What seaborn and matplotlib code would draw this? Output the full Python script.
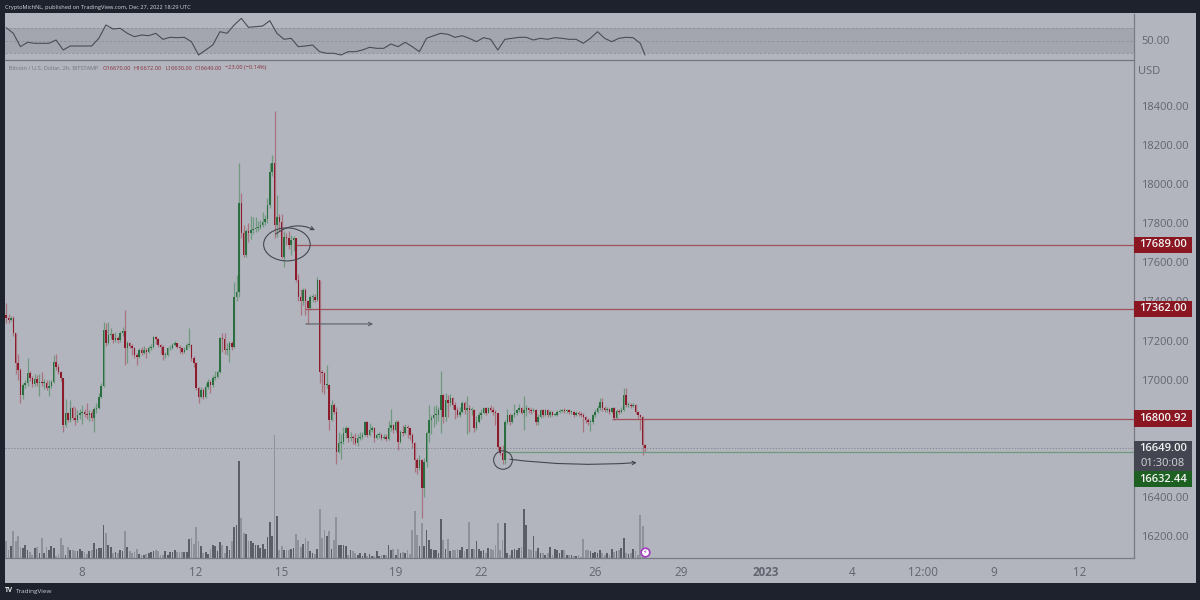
"""BTC/USD 2h TradingView screenshot redrawn with seaborn + matplotlib."""
import matplotlib

matplotlib.use("Agg")
import matplotlib.pyplot as plt
from matplotlib.patches import Ellipse, Rectangle
import numpy as np
import pandas as pd
import seaborn as sns

FIRST_OPEN = 17330
closes = [
    17314, 17305, 17314, 17237, 17084, 17050, 16922, 16973, 16981, 17033,
    17007, 16978, 17002, 16981, 16990, 16985, 16985, 16956, 16968, 16990,
    17092, 17067, 17041, 17007, 16768, 16828, 16794, 16854, 16802, 16794,
    16819, 16831, 16837, 16825, 16819, 16828, 16806, 16850, 16857, 16913,
    16968, 17254, 17186, 17229, 17234, 17203, 17212, 17203, 17241, 17251,
    17160, 17186, 17174, 17160, 17126, 17118, 17152, 17135, 17152, 17143,
    17160, 17169, 17217, 17206, 17178, 17169, 17126, 17126, 17160, 17160,
    17178, 17186, 17169, 17160, 17143, 17152, 17178, 17178, 17109, 17084,
    16956, 16913, 16947, 16913, 16964, 16990, 16973, 17007, 17016, 17041,
    17212, 17206, 17152, 17152, 17186, 17169, 17425, 17450, 17902, 17749,
    17638, 17758, 17749, 17765, 17770, 17775, 17780, 17790, 17805, 17820,
    17894, 18064, 18107, 17792, 17834, 17809, 17630, 17732, 17725, 17689,
    17715, 17723, 17510, 17425, 17400, 17459, 17400, 17365, 17425, 17425,
    17410, 17510, 17041, 17033, 16973, 16973, 16794, 16871, 16836, 16632,
    16674, 16683, 16726, 16751, 16700, 16709, 16700, 16674, 16700, 16709,
    16717, 16785, 16717, 16743, 16751, 16700, 16717, 16717, 16700, 16709,
    16695, 16751, 16768, 16743, 16785, 16683, 16734, 16726, 16760, 16751,
    16717, 16674, 16589, 16547, 16589, 16444, 16581, 16726, 16794, 16802,
    16819, 16819, 16845, 16922, 16811, 16896, 16879, 16905, 16871, 16845,
    16819, 16836, 16879, 16845, 16853, 16845, 16845, 16751, 16785, 16819,
    16828, 16853, 16828, 16853, 16845, 16836, 16828, 16657, 16623, 16589,
    16785, 16819, 16785, 16819, 16828, 16845, 16853, 16831, 16845, 16853,
    16845, 16842, 16845, 16785, 16811, 16845, 16819, 16845, 16819, 16836,
    16819, 16819, 16836, 16842, 16845, 16840, 16845, 16836, 16836, 16819,
    16831, 16825, 16819, 16811, 16794, 16785, 16785, 16819, 16836, 16853,
    16888, 16853, 16845, 16848, 16836, 16853, 16802, 16842, 16836, 16845,
    16922, 16871, 16871, 16865, 16871, 16836, 16819, 16811, 16666, 16649,
]
highs = [
    17390, 17335, 17325, 17325, 17240, 17130, 17060, 16985, 17000, 17110,
    17045, 17020, 17030, 17025, 17030, 17040, 17005, 17000, 17000, 17000,
    17125, 17130, 17080, 17045, 17010, 16900, 16835, 16895, 16865, 16860,
    16845, 16850, 16870, 16850, 16880, 16845, 16845, 16860, 16880, 16930,
    16985, 17295, 17290, 17295, 17265, 17240, 17245, 17225, 17250, 17270,
    17355, 17200, 17195, 17180, 17165, 17135, 17160, 17165, 17170, 17160,
    17170, 17185, 17225, 17225, 17215, 17180, 17175, 17140, 17165, 17175,
    17190, 17200, 17190, 17175, 17165, 17165, 17190, 17265, 17185, 17120,
    17090, 16965, 16965, 16955, 16985, 17005, 17000, 17025, 17045, 17050,
    17220, 17240, 17240, 17190, 17200, 17200, 17500, 17535, 18110, 17955,
    17790, 17770, 17800, 17835, 17830, 17830, 17810, 17815, 17860, 17840,
    17930, 18110, 18150, 18375, 17945, 17850, 17850, 17760, 17750, 17760,
    17740, 17735, 17725, 17540, 17465, 17470, 17470, 17410, 17435, 17440,
    17440, 17525, 17510, 17050, 17040, 17075, 16980, 16895, 16880, 16860,
    16730, 16720, 16760, 16765, 16760, 16735, 16715, 16725, 16720, 16735,
    16730, 16790, 16790, 16780, 16765, 16760, 16725, 16730, 16725, 16720,
    16720, 16790, 16850, 16775, 16795, 16795, 16745, 16770, 16775, 16770,
    16755, 16725, 16680, 16600, 16615, 16595, 16600, 16740, 16870, 16820,
    16865, 16870, 16860, 17045, 16925, 16930, 16920, 16925, 16910, 16885,
    16860, 16860, 16890, 16890, 16915, 16870, 16860, 16850, 16815, 16835,
    16850, 16860, 16860, 16860, 16870, 16860, 16845, 16830, 16660, 16665,
    16795, 16850, 16830, 16825, 16875, 16850, 16875, 16860, 16915, 16870,
    16860, 16855, 16855, 16850, 16825, 16850, 16850, 16850, 16850, 16845,
    16840, 16830, 16845, 16850, 16850, 16855, 16850, 16850, 16845, 16840,
    16840, 16840, 16835, 16830, 16815, 16805, 16800, 16825, 16850, 16870,
    16905, 16905, 16865, 16860, 16855, 16860, 16860, 16850, 16850, 16860,
    16960, 16960, 16885, 16880, 16880, 16875, 16840, 16825, 16812, 16672,
]
lows = [
    17290, 17290, 17300, 17225, 17030, 17000, 16880, 16900, 16955, 16970,
    16995, 16965, 16970, 16970, 16915, 16970, 16950, 16945, 16915, 16955,
    16985, 17050, 17030, 16995, 16735, 16760, 16785, 16785, 16795, 16770,
    16785, 16800, 16775, 16810, 16800, 16790, 16790, 16735, 16830, 16850,
    16905, 16965, 17170, 17180, 17210, 17190, 17195, 17190, 17195, 17225,
    17075, 17085, 17160, 17125, 17110, 17075, 17110, 17125, 17130, 17110,
    17135, 17150, 17160, 17185, 17165, 17130, 17100, 17110, 17120, 17150,
    17155, 17170, 17160, 17135, 17130, 17135, 17150, 17165, 17095, 17065,
    16945, 16880, 16905, 16900, 16905, 16950, 16930, 16965, 17000, 17010,
    17035, 17140, 17130, 17125, 17090, 17150, 17160, 17405, 17425, 17725,
    17625, 17630, 17705, 17720, 17745, 17755, 17760, 17770, 17780, 17790,
    17800, 17880, 18040, 17725, 17730, 17760, 17620, 17575, 17690, 17670,
    17640, 17660, 17500, 17400, 17330, 17380, 17330, 17285, 17355, 17395,
    17395, 17400, 16985, 16935, 16925, 16960, 16745, 16790, 16825, 16570,
    16625, 16595, 16670, 16700, 16680, 16685, 16670, 16665, 16660, 16690,
    16695, 16710, 16705, 16710, 16735, 16680, 16695, 16700, 16690, 16695,
    16685, 16690, 16740, 16725, 16735, 16640, 16675, 16710, 16720, 16700,
    16690, 16650, 16530, 16520, 16540, 16295, 16400, 16555, 16680, 16720,
    16760, 16775, 16790, 16725, 16780, 16790, 16810, 16865, 16850, 16800,
    16810, 16810, 16830, 16825, 16720, 16730, 16820, 16735, 16745, 16780,
    16800, 16825, 16820, 16830, 16835, 16820, 16770, 16640, 16615, 16570,
    16570, 16775, 16770, 16780, 16810, 16820, 16835, 16825, 16745, 16815,
    16830, 16825, 16835, 16770, 16770, 16805, 16810, 16815, 16810, 16810,
    16815, 16815, 16815, 16830, 16835, 16830, 16830, 16825, 16825, 16810,
    16815, 16815, 16810, 16735, 16780, 16770, 16740, 16775, 16810, 16830,
    16845, 16840, 16835, 16835, 16825, 16830, 16795, 16800, 16825, 16830,
    16840, 16860, 16860, 16855, 16860, 16825, 16805, 16745, 16615, 16630,
]
volumes = [
    17, 8, 12, 27, 17, 22, 11, 10, 13, 8,
    6, 3, 10, 11, 5, 20, 5, 11, 8, 12,
    10, 2, 4, 20, 13, 3, 11, 8, 8, 7,
    7, 9, 7, 6, 4, 7, 8, 15, 9, 10,
    10, 33, 25, 13, 11, 5, 6, 5, 8, 7,
    27, 11, 7, 5, 6, 9, 4, 3, 3, 4,
    5, 6, 7, 8, 7, 3, 3, 7, 3, 6,
    6, 8, 6, 6, 6, 6, 6, 19, 20, 14,
    31, 17, 12, 5, 6, 4, 9, 13, 12, 7,
    16, 13, 5, 12, 8, 17, 31, 33, 97, 40,
    25, 24, 17, 17, 15, 13, 13, 10, 14, 9,
    21, 36, 22, 123, 42, 8, 12, 8, 8, 8,
    9, 10, 24, 18, 11, 14, 20, 17, 7, 5,
    4, 9, 49, 20, 28, 22, 27, 9, 18, 41,
    13, 13, 13, 12, 3, 8, 7, 5, 3, 5,
    2, 5, 2, 4, 2, 2, 7, 2, 3, 3,
    3, 13, 8, 9, 3, 9, 5, 6, 5, 8,
    4, 28, 47, 23, 12, 35, 12, 28, 18, 9,
    8, 8, 5, 39, 18, 9, 19, 7, 8, 8,
    9, 8, 11, 7, 9, 36, 9, 9, 17, 9,
    7, 8, 5, 10, 9, 8, 13, 35, 8, 18,
    35, 5, 3, 8, 9, 8, 10, 11, 49, 33,
    9, 8, 22, 7, 10, 5, 5, 3, 5, 11,
    3, 9, 8, 5, 8, 8, 3, 3, 3, 2,
    2, 3, 1, 19, 8, 8, 7, 5, 6, 5,
    8, 5, 3, 5, 3, 9, 6, 7, 8, 10,
    20, 5, 4, 5, 9, 7, 3, 43, 32, 5,
]
rsi_values = [
    70.5, 61.5, 40.1, 47.1, 45.5, 45.5, 45.5, 50.8, 34.8, 41.2,
    41.2, 41.2, 41.2, 53.5, 74.8, 68.4, 69.5, 61.5, 56.1, 58.8,
    57.7, 61.5, 51.9, 55.1, 54.5, 55.1, 48.1, 26.8, 34.8, 42.8,
    64.1, 61.5, 74.8, 85.5, 71.1, 72.1, 73.2, 81.7, 61.5, 51.9,
    53.5, 40.1, 41.2, 42.8, 32.1, 29.5, 29.5, 26.8, 32.1, 32.1,
    34.8, 39.1, 37.5, 37.5, 44.4, 40.1, 47.1, 40.1, 32.1, 53.5,
    57.7, 61.5, 59.9, 55.1, 57.7, 53.5, 48.1, 54.5, 51.9, 34.8,
    51.9, 53.5, 55.1, 55.1, 50.8, 53.5, 51.9, 54.5, 53.5, 51.9,
    51.9, 45.5, 53.5, 64.1, 53.5, 48.1, 53.5, 55.1, 54.5, 45.5,
    26.8,
]
rsi_index = list(range(0, 270, 3)) + [269]

# 16600 and 16800 are hidden behind the flags in the screenshot
price_ticks = [16200, 16400, 17000, 17200, 17400, 17600, 17800, 18000, 18200, 18400]
time_tick_pos = [32, 80, 116, 164, 200, 248, 284, 320, 356, 386, 416, 452]
time_tick_labels = ["8", "12", "15", "19", "22", "26", "29", "2023", "4", "12:00", "9", "12"]

last_price = 16649
level_starts = {17689: 122, 17362: 126, 16800.92: 255}
support_level = 16632.44
support_start = 210

BG = "#b2b5be"
FRAME = "#1e222d"
UP = "#2b6e3f"
DOWN = "#8c1c2b"
UP_WICK = "#6f9a80"
DOWN_WICK = "#a9747f"
TXT = "#62656f"
AXLINE = "#787b86"

# pixel geometry of the screenshot
W, H = 1200, 600
PLOT_L, PLOT_R = 5, 1134
RSI_T, RSI_B = 13.5, 60
MAIN_T, MAIN_B = 61, 558

sns.set_theme(style="white")
plt.rcParams["font.family"] = ["Open Sans", "DejaVu Sans"]


def px_axes(fig, left, top, right, bottom):
    return fig.add_axes([left / W, 1 - bottom / H, (right - left) / W, (bottom - top) / H])


def px_text(fig, x, y, s, **kw):
    return fig.text(x / W, 1 - y / H, s, va="center", **kw)


df = pd.DataFrame({"close": closes, "high": highs, "low": lows, "volume": volumes})
df["open"] = df["close"].shift(1).fillna(FIRST_OPEN)
df["idx"] = np.arange(len(df))
df["up"] = df["close"] >= df["open"]

fig = plt.figure(figsize=(12, 6), dpi=100, facecolor=FRAME)
fig.add_artist(Rectangle((PLOT_L / W, 1 - 583 / H), (1196 - PLOT_L) / W, (583 - 13) / H,
                         transform=fig.transFigure, facecolor=BG, edgecolor="none", zorder=-5))

xlim = (-0.5, 474.9)
ylim = (16088, 18630)

# volume sits under the candles, same x scale
ax_vol = px_axes(fig, PLOT_L, MAIN_T, PLOT_R, MAIN_B)
sns.barplot(data=df, x="idx", y="volume", hue="up", palette={True: "#5c5e67", False: "#8f919a"},
            native_scale=True, width=0.75, dodge=False, saturation=1, legend=False,
            linewidth=0, edgecolor="none", ax=ax_vol)
ax_vol.set_xlim(*xlim)
ax_vol.set_ylim(0, MAIN_B - MAIN_T)
ax_vol.axis("off")
ax_vol.patch.set_alpha(0)

ax = px_axes(fig, PLOT_L, MAIN_T, PLOT_R, MAIN_B)
ax.patch.set_alpha(0)
ax.set_xlim(*xlim)
ax.set_ylim(*ylim)
for side in ["left", "top"]:
    ax.spines[side].set_visible(False)
for side in ["right", "bottom"]:
    ax.spines[side].set_color(AXLINE)
    ax.spines[side].set_linewidth(0.9)

up = df[df["up"]]
down = df[~df["up"]]
ax.vlines(up["idx"], up["low"], up["high"], color=UP_WICK, lw=0.9, zorder=2)
ax.vlines(down["idx"], down["low"], down["high"], color=DOWN_WICK, lw=0.9, zorder=2)
ax.bar(up["idx"], (up["close"] - up["open"]).clip(lower=4), bottom=up["open"], width=0.62,
       color=UP, linewidth=0, zorder=3)
ax.bar(down["idx"], (down["open"] - down["close"]).clip(lower=4), bottom=down["close"], width=0.62,
       color=DOWN, linewidth=0, zorder=3)

# levels
for level, start in level_starts.items():
    ax.hlines(level, start, xlim[1], color="#a0515c", lw=0.9, zorder=2)
ax.hlines(support_level, support_start, xlim[1], color="#6f9a80", lw=0.9, zorder=2)
ax.axhline(last_price, color="#7d808a", lw=0.6, ls=(0, (1.5, 2)), zorder=1)

# hand drawn circles and arrows
ax.add_patch(Ellipse((118.2, 17692), 19.6, 169, angle=0, fill=False, ec="#44474f", lw=0.8, zorder=4))
ax.add_patch(Ellipse((209.2, 16589), 7.9, 94, fill=False, ec="#44474f", lw=0.8, zorder=4))
arrow = dict(arrowstyle="->", color="#44474f", lw=0.8, shrinkA=0, shrinkB=0, mutation_scale=6)
ax.annotate("", xy=(130, 17765), xytext=(113.5, 17745),
            arrowprops=dict(arrow, connectionstyle="arc3,rad=-0.3"), zorder=4)
ax.annotate("", xy=(154.5, 17285), xytext=(126.2, 17285),
            arrowprops=dict(arrow, color="#5c5e67"), zorder=4)
ax.annotate("", xy=(265.5, 16576), xytext=(212.1, 16593),
            arrowprops=dict(arrow, connectionstyle="arc3,rad=0.05"), zorder=4)

# axes
ax.yaxis.tick_right()
ax.set_yticks(price_ticks)
ax.set_yticklabels([f"{p}.00" for p in price_ticks], color=TXT, fontsize=8)
ax.set_xticks(time_tick_pos)
ax.set_xticklabels(time_tick_labels, color=TXT, fontsize=8.4)
for lab in ax.get_xticklabels():
    if lab.get_text() == "2023":
        lab.set_fontweight("bold")
ax.tick_params(axis="y", length=0, pad=5)
ax.tick_params(axis="x", length=0, pad=6)

# price flags, width runs from the axis edge to 1192 px
flag_w = (1192 - PLOT_R) / (PLOT_R - PLOT_L)
tr = ax.get_yaxis_transform()
FLAG_H = 85


def flag(y, label, color, height=FLAG_H):
    ax.add_patch(Rectangle((1, y - height / 2), flag_w, height, transform=tr, facecolor=color,
                           edgecolor="none", clip_on=False, zorder=6))
    ax.text(1 + flag_w / 2, y, label, transform=tr, ha="center", va="center", color="#f2f2f2",
            fontsize=8, fontweight="semibold", clip_on=False, zorder=7)


flag(17689, "17689.00", "#8a1621")
flag(17362, "17362.00", "#8a1621")
flag(16800.92, "16800.92", "#8a1621")

ax.add_patch(Rectangle((1, 16535), flag_w, 153, transform=tr, facecolor="#434651",
                       edgecolor="none", clip_on=False, zorder=6))
ax.text(1 + flag_w / 2, 16649, "16649.00", transform=tr, ha="center", va="center", color="#f2f2f2",
        fontsize=8, fontweight="semibold", clip_on=False, zorder=7)
ax.text(1 + flag_w / 2, 16573, "01:30:08", transform=tr, ha="center", va="center", color="#d5d6da",
        fontsize=8, clip_on=False, zorder=7)
flag(16492, "16632.44", "#1e6022")

# lightning badge at the end of the volume row
ax.scatter([269], [16119], s=38, facecolor="white", edgecolor="#a23bc0", lw=1.2, zorder=5, clip_on=False)
ax.text(269, 16119, "\u26a1", ha="center", va="center", color="#a23bc0", fontsize=4.5,
        family="DejaVu Sans", zorder=6)

# RSI pane
ax_rsi = px_axes(fig, PLOT_L, RSI_T, PLOT_R, RSI_B)
ax_rsi.patch.set_alpha(0)
ax_rsi.set_xlim(*xlim)
ax_rsi.set_ylim(18.8, 93.2)
ax_rsi.axhspan(30, 70, color="#a3a6af", lw=0, zorder=0)
for lvl in (30, 50, 70):
    ax_rsi.axhline(lvl, color="#8d9099", lw=0.6, ls=(0, (3, 2)), zorder=1)
sns.lineplot(x=rsi_index, y=rsi_values, color="#4a4d56", lw=0.8, ax=ax_rsi, zorder=3)
ax_rsi.set_xticks([])
ax_rsi.yaxis.tick_right()
ax_rsi.set_yticks([50])
ax_rsi.set_yticklabels(["50.00"], color=TXT, fontsize=8)
ax_rsi.tick_params(axis="y", length=0, pad=5)
for side in ["left", "top"]:
    ax_rsi.spines[side].set_visible(False)
ax_rsi.spines["right"].set_color(AXLINE)
ax_rsi.spines["right"].set_linewidth(0.9)
ax_rsi.spines["bottom"].set_color("#73767f")
ax_rsi.spines["bottom"].set_linewidth(0.9)

# header, legend and footer text
px_text(fig, 5, 7, "CryptoMichNL, published on TradingView.com, Dec 27, 2022 18:29 UTC", color="#d8d9de", fontsize=4.1)
px_text(fig, 9, 68, "Bitcoin / U.S. Dollar, 2h, BITSTAMP", color="#6f727c", fontsize=4.1)
for x, s in [(103, "O16670.00"), (134, "H16672.00"), (165, "L16630.00"), (195, "C16649.00"),
             (225, "\u221223.00 (\u22120.14%)")]:
    px_text(fig, x, 68, s, color="#86303c", fontsize=4.1)
px_text(fig, 1138, 71, "USD", color=TXT, fontsize=8)
px_text(fig, 5, 591, "TV", color="#e8e9ec", fontsize=4.8, fontweight="bold")
px_text(fig, 16, 591, "TradingView", color="#c9cbd1", fontsize=4.6)

fig.savefig("out.png", dpi=100, facecolor=FRAME)
